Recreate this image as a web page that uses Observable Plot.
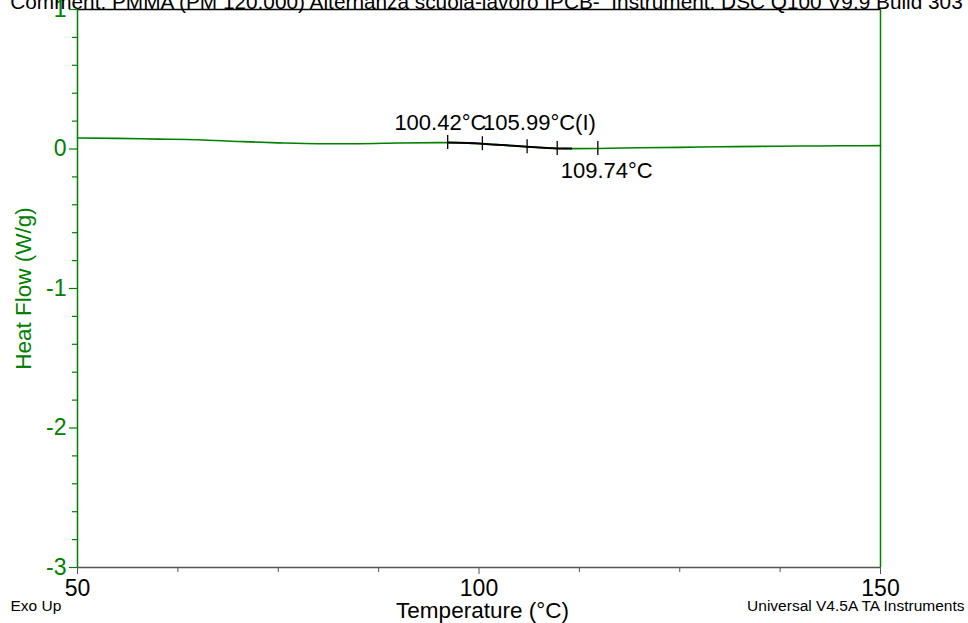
<!DOCTYPE html>
<html>
<head>
<meta charset="utf-8">
<script src="https://cdn.jsdelivr.net/npm/d3@7"></script>
<script src="https://cdn.jsdelivr.net/npm/@observablehq/plot@0.6"></script>
<style>
  html, body { margin: 0; padding: 0; background: white; }
  #chart svg { display: block; }
</style>
</head>
<body>
<div id="chart"></div>
<script>
// Curve: temperature (°C) and heat flow (W/g)
const temperature = [50, 55, 60, 65, 70, 75, 80, 85, 90, 96.1, 100.42, 103, 105.99, 108, 109.74, 111.5, 114.8, 120, 125, 130, 135, 140, 145, 150];
const heatFlow    = [0.079, 0.076, 0.071, 0.066, 0.054, 0.044, 0.038, 0.038, 0.043, 0.046, 0.038, 0.028, 0.016, 0.009, 0.004, 0.003, 0.004, 0.009, 0.012, 0.016, 0.019, 0.021, 0.023, 0.024];
// Analysis (glass transition) region drawn in black
const analysisStart = 96.1;
const analysisEnd = 111.5;
// Tick marks on the curve
const markTemps = [96.1, 100.42, 105.99, 109.74, 114.8];
const markFlows = [0.046, 0.038, 0.016, 0.004, 0.004];
// Annotation labels
const labelTemps = [100.42, 105.99, 109.74];
const labelFlows = [0.038, 0.016, 0.004];
const labelTexts = ["100.42°C", "105.99°C(I)", "109.74°C"];
// Axis ticks
const yMajorTicks = [-3, -2, -1, 0, 1];
const yMinorTicks = [-2.8, -2.6, -2.4, -2.2, -1.8, -1.6, -1.4, -1.2, -0.8, -0.6, -0.4, -0.2, 0.2, 0.4, 0.6, 0.8];
const xMinorTicks = [62.5, 75, 87.5, 112.5, 125, 137.5];
const xLabelTicks = [50, 100, 150];
// Texts
const commentText = "Comment: PMMA (PM 120.000) Alternanza scuola-lavoro IPCB-  Instrument: DSC Q100 V9.9 Build 303";
const xLabel = "Temperature (°C)";
const yLabel = "Heat Flow (W/g)";
const exoText = "Exo Up";
const softwareText = "Universal V4.5A TA Instruments";

const GREEN = "#008000";
const curve = temperature.map((t, i) => ({t, hf: heatFlow[i]}));
const analysis = curve.filter(d => d.t >= analysisStart && d.t <= analysisEnd);
const marksData = markTemps.map((t, i) => ({t, hf: markFlows[i]}));
const labels = labelTemps.map((t, i) => ({t, hf: labelFlows[i], text: labelTexts[i]}));

const chart = Plot.plot({
  width: 968,
  height: 623,
  marginLeft: 77,
  marginRight: 88,
  marginTop: 9,
  marginBottom: 56,
  style: {fontFamily: "'Liberation Sans', Arial, sans-serif", fontSize: "20px", background: "white", color: "black"},
  x: {domain: [50, 150]},
  y: {domain: [-3, 1]},
  marks: [
    // frame
    Plot.ruleY([1], {stroke: "black", strokeWidth: 1.5}),
    Plot.ruleY([-3], {stroke: "#555", strokeWidth: 1.5}),
    Plot.ruleX([150], {stroke: GREEN, strokeWidth: 1.5}),
    Plot.ruleX([50], {stroke: GREEN, strokeWidth: 1.5}),
    // y axis
    Plot.axisY(yMinorTicks, {tickSize: 5, text: null, stroke: GREEN, strokeWidth: 1.2, label: null}),
    Plot.axisY(yMajorTicks, {tickSize: 8, tickPadding: 3, fontSize: 23, stroke: GREEN, fill: GREEN, strokeWidth: 1.2, label: null, tickFormat: d => String(d)}),
    // x axis
    Plot.axisX(xMinorTicks, {tickSize: 5, text: null, stroke: "#555", label: null}),
    Plot.axisX(xLabelTicks, {tickSize: 7, tickPadding: 5, fontSize: 23, stroke: "#555", fill: "black", label: null, tickFormat: d => String(d)}),
    // curve
    Plot.line(curve, {x: "t", y: "hf", stroke: GREEN, strokeWidth: 1.6, curve: "monotone-x"}),
    Plot.line(analysis, {x: "t", y: "hf", stroke: "black", strokeWidth: 2, curve: "monotone-x"}),
    Plot.ruleX(marksData, {x: "t", y1: "hf", y2: "hf", insetTop: -7, insetBottom: -7, stroke: "black", strokeWidth: 1.3}),
    // annotations
    Plot.text([labels[0]], {x: "t", y: "hf", text: "text", textAnchor: "end", dx: 4, dy: -21, lineAnchor: "middle", fontSize: 22, fill: "black"}),
    Plot.text([labels[1]], {x: "t", y: "hf", text: "text", textAnchor: "start", dx: -44, dy: -24.3, lineAnchor: "middle", fontSize: 22, fill: "black"}),
    Plot.text([labels[2]], {x: "t", y: "hf", text: "text", textAnchor: "start", dx: 3.5, dy: 23, lineAnchor: "middle", fontSize: 22, fill: "black"}),
    // texts around the frame
    Plot.text([commentText], {text: d => d, frameAnchor: "top", textAnchor: "middle", dx: 7.5, dy: -7.5, lineAnchor: "middle", fontSize: 20.8, fill: "black"}),
    Plot.text([yLabel], {text: d => d, frameAnchor: "left", textAnchor: "middle", dx: -54, rotate: -90, lineAnchor: "middle", fontSize: 22.5, fill: GREEN}),
    Plot.text([xLabel], {text: d => d, frameAnchor: "bottom", textAnchor: "middle", dx: 3.5, dy: 43, lineAnchor: "middle", fontSize: 22.5, fill: "black"}),
    Plot.text([exoText], {text: d => d, frameAnchor: "bottom-left", textAnchor: "start", dx: -67, dy: 39, lineAnchor: "middle", fontSize: 15.5, fill: "black"}),
    Plot.text([softwareText], {text: d => d, frameAnchor: "bottom-right", textAnchor: "end", dx: 84, dy: 39, lineAnchor: "middle", fontSize: 15.5, fill: "black"})
  ]
});
document.getElementById("chart").appendChild(chart);
</script>
</body>
</html>
